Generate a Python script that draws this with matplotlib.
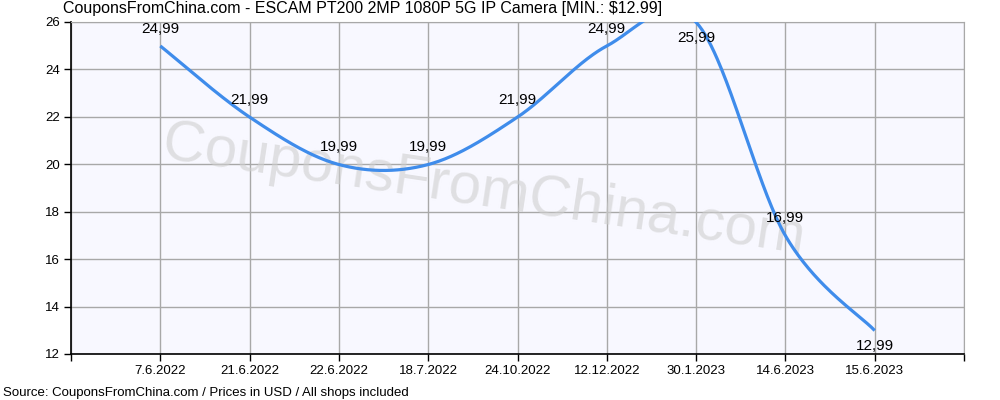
import numpy as np
import matplotlib
matplotlib.use('Agg')
import matplotlib.pyplot as plt

# price history
dates = ['7.6.2022', '21.6.2022', '22.6.2022', '18.7.2022', '24.10.2022',
         '12.12.2022', '30.1.2023', '14.6.2023', '15.6.2023']
prices = [24.99, 21.99, 19.99, 19.99, 21.99, 24.99, 25.99, 16.99, 12.99]
y_ticks = [12, 14, 16, 18, 20, 22, 24, 26]

title = 'CouponsFromChina.com - ESCAM PT200 2MP 1080P 5G IP Camera [MIN.: $12.99]'
source = 'Source: CouponsFromChina.com / Prices in USD / All shops included'

plt.rcParams['font.family'] = ['Liberation Sans', 'DejaVu Sans']


def cardinal_spline(xs, ys, tension=0.5, n=60):
    # same idea as GDI+ DrawCurve: bezier segments, control points from neighbours
    xs = np.asarray(xs, float)
    ys = np.asarray(ys, float)
    pts = np.column_stack([xs, ys])
    k = tension / 3.0
    out = []
    for i in range(len(pts) - 1):
        p0 = pts[max(i - 1, 0)]
        p1 = pts[i]
        p2 = pts[i + 1]
        p3 = pts[min(i + 2, len(pts) - 1)]
        c1 = p1 + k * (p2 - p0)
        c2 = p2 - k * (p3 - p1)
        t = np.linspace(0, 1, n)[:, None]
        seg = ((1 - t) ** 3) * p1 + 3 * ((1 - t) ** 2) * t * c1 + 3 * (1 - t) * t ** 2 * c2 + t ** 3 * p2
        out.append(seg if i == 0 else seg[1:])
    seg = np.vstack(out)
    return seg[:, 0], seg[:, 1]


fig = plt.figure(figsize=(10, 4), dpi=100)
ax = fig.add_axes([0.071, 0.115, 0.893, 0.83])
ax.set_facecolor('#F8F8FF')

x = np.arange(1, len(dates) + 1)
sx, sy = cardinal_spline(x, prices)
ax.plot(sx, sy, color='#3F8CEB', lw=2.3, solid_capstyle='butt', zorder=4)

# data labels
for i, (xi, p) in enumerate(zip(x, prices)):
    below = p > 25.5 or i == len(prices) - 1
    off = -11 if below else 12.5
    ax.annotate(f'{p:.2f}'.replace('.', ','), (xi, p), xytext=(0, off),
                textcoords='offset points', ha='center', va='center',
                fontsize=11, color='black', zorder=5)

# watermark
ax.text(0.462, 0.49, 'CouponsFromChina.com', transform=ax.transAxes, rotation=-8.5,
        ha='center', va='center', fontsize=42, color='#CFCFCF', alpha=0.6,
        zorder=3)

ax.set_xlim(0, len(dates) + 1)
ax.set_ylim(12, 26)
ax.set_xticks(np.arange(0, len(dates) + 2))
ax.set_xticklabels([''] + dates + [''])
ax.set_yticks(y_ticks)
ax.tick_params(axis='both', length=5, width=1, labelsize=9.5, color='black', pad=3)
ax.grid(True, color='#A8A8A8', lw=1)
ax.set_axisbelow(True)
for s in ['top', 'right']:
    ax.spines[s].set_color('#A8A8A8')
for s in ['left', 'bottom']:
    ax.spines[s].set_color('black')
    ax.spines[s].set_linewidth(1.2)

fig.text(0.063, 0.98, title, ha='left', va='center', fontsize=11.5)
fig.text(0.003, 0.017, source, ha='left', va='center', fontsize=9.5)

fig.savefig('out.png', dpi=100)
